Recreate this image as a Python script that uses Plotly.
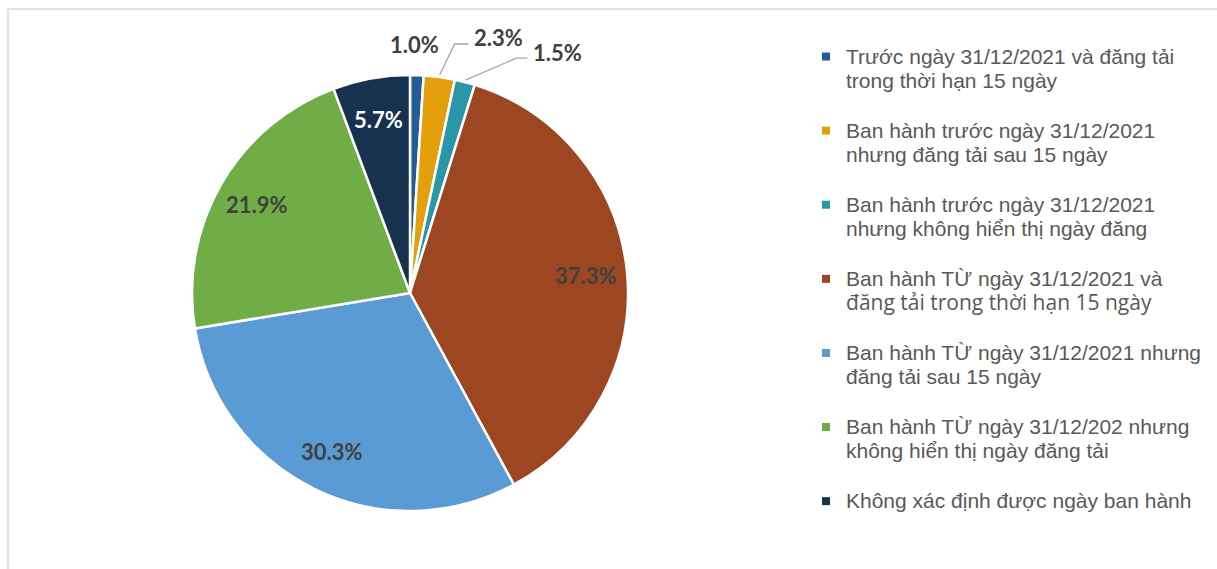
import math
import plotly.graph_objects as go

# ---------------- data ----------------
label_lines = [
    ["Trước ngày 31/12/2021 và đăng tải", "trong thời hạn 15 ngày"],
    ["Ban hành trước ngày 31/12/2021", "nhưng đăng tải sau 15 ngày"],
    ["Ban hành trước ngày 31/12/2021", "nhưng không hiển thị ngày đăng"],
    ["Ban hành TỪ ngày 31/12/2021 và", "đăng tải trong thời hạn 15 ngày"],
    ["Ban hành TỪ ngày 31/12/2021 nhưng", "đăng tải sau 15 ngày"],
    ["Ban hành TỪ ngày 31/12/202 nhưng", "không hiển thị ngày đăng tải"],
    ["Không xác định được ngày ban hành"],
]
values = [1.0, 2.3, 1.5, 37.3, 30.3, 21.9, 5.7]
colors = ["#245C96", "#E3A00C", "#2A97A8", "#9C4622", "#5B9BD5", "#70AD47", "#16324F"]

# ---------------- layout constants (pixels) ----------------
W, H = 1217, 569
CX, CY, R = 410, 293, 218

def px(x):
    return x / W

def py(y):
    return 1 - y / H

def span(t, extra=""):
    return f"<span style=\"font-size:21px{extra}\">{t}</span>"

labels = []
for i, lines in enumerate(label_lines):
    parts = []
    for j, ln in enumerate(lines):
        if i == 3 and j == 1:
            parts.append(f"<span style=\"font-size:21px;font-family:'Open Sans'\">{ln}</span>")
        else:
            parts.append(span(ln))
    labels.append("<br>".join(parts))

hover_labels = [" ".join(l) for l in label_lines]

fig = go.Figure()
fig.add_trace(go.Pie(
    labels=hover_labels, values=values, sort=False, direction="clockwise", rotation=0,
    marker=dict(colors=colors, line=dict(color="white", width=2.5)),
    textinfo="none", showlegend=False, hoverinfo="label+percent",
    domain=dict(x=[px(CX - R), px(CX + R)], y=[py(CY + R), py(CY - R)]),
))

# legend entries (one group per category, so spacing can match the reference)
for i, (lab, col) in enumerate(zip(labels, colors)):
    fig.add_trace(go.Scatter(
        x=[None], y=[None], mode="markers", name=lab, legendgroup=str(i),
        marker=dict(symbol="square", size=8, color=col), hoverinfo="skip",
    ))

# ---------------- data labels ----------------
total = sum(values)
cum = 0.0
annotations = []
shapes = []
outside = {
    0: dict(rad=1.14, line=None),
    1: dict(line=((15, -31), 14), lab=(3, -7)),
    2: dict(line=((51, -22), 11), lab=(4, -6)),
}
label_font = dict(family="Lato, Carlito, sans-serif", size=22, color="#404040")
for i, v in enumerate(values):
    mid = (cum + v / 2) / total * 2 * math.pi
    cum += v
    s, c = math.sin(mid), math.cos(mid)
    txt = f"<b>{v:.1f}%</b>"
    if i in outside:
        o = outside[i]
        if o["line"] is None:
            x, y = CX + R * o["rad"] * s - 3, CY - R * o["rad"] * c
            annotations.append(dict(x=px(x), y=py(y), xref="paper", yref="paper", text=txt,
                                    showarrow=False, font=label_font, xanchor="center", yanchor="middle"))
        else:
            ex, ey = CX + (R + 2) * s, CY - (R + 2) * c
            (dx, dy), seg = o["line"]
            bx, by = ex + dx, ey + dy
            fx, fy = bx + seg, by
            shapes.append(dict(type="path", xref="paper", yref="paper",
                               path=f"M {px(ex)} {py(ey)} L {px(bx)} {py(by)} L {px(fx)} {py(fy)}",
                               line=dict(color="#A6A6A6", width=1.3)))
            lx, ly = fx + o["lab"][0], fy + o["lab"][1]
            annotations.append(dict(x=px(lx), y=py(ly), xref="paper", yref="paper", text=txt,
                                    showarrow=False, font=label_font, xanchor="left", yanchor="middle"))
    else:
        x, y = CX + R * 0.81 * s, CY - R * 0.81 * c
        f = dict(label_font)
        if i == 6:
            f["color"] = "white"
        annotations.append(dict(x=px(x), y=py(y), xref="paper", yref="paper", text=txt,
                                showarrow=False, font=f, xanchor="center", yanchor="middle"))

# frame lines
shapes.append(dict(type="line", xref="paper", yref="paper", x0=px(8), x1=1, y0=py(9), y1=py(9),
                   line=dict(color="#D9D9D9", width=1.5)))
shapes.append(dict(type="line", xref="paper", yref="paper", x0=px(8), x1=px(8), y0=py(9), y1=0,
                   line=dict(color="#D9D9D9", width=1.5)))

fig.update_layout(
    width=W, height=H,
    margin=dict(l=0, r=0, t=0, b=0, pad=0),
    paper_bgcolor="white", plot_bgcolor="white",
    xaxis=dict(visible=False), yaxis=dict(visible=False),
    annotations=annotations, shapes=shapes,
    legend=dict(x=px(806), y=py(38), xanchor="left", yanchor="top",
                font=dict(family="Liberation Sans, Arial, sans-serif", size=18.5, color="#595959"),
                tracegroupgap=23, valign="top", bgcolor="rgba(0,0,0,0)"),
    showlegend=True,
)

fig.write_html("out.html")
